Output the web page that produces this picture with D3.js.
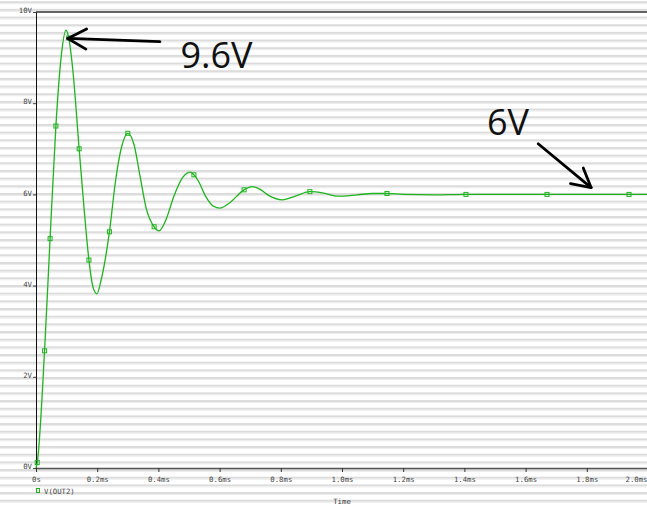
<!DOCTYPE html>
<html>
<head>
<meta charset="utf-8">
<script src="https://cdn.jsdelivr.net/npm/d3@7"></script>
<style>
  html, body { margin: 0; padding: 0; background: #fff; }
  svg { display: block; }
</style>
</head>
<body>
<svg id="chart" width="647" height="506"></svg>
<script>
// Transient response of V(OUT2): time in ms, voltage in V
const timeMs = [0, 0.004, 0.028, 0.046, 0.065, 0.082, 0.098, 0.107, 0.12, 0.141, 0.157, 0.173, 0.187, 0.199,
  0.212, 0.24, 0.26, 0.28, 0.30, 0.32, 0.34, 0.36, 0.386, 0.402, 0.425, 0.45, 0.48, 0.505, 0.516, 0.53, 0.555,
  0.58, 0.601, 0.63, 0.68, 0.705, 0.73, 0.76, 0.805, 0.85, 0.895, 0.94, 0.987, 1.05, 1.1, 1.147, 1.2, 1.3,
  1.405, 1.67, 1.938, 2.0];
const voltage = [0, 0.12, 2.57, 5.03, 7.5, 9.0, 9.6, 9.43, 8.75, 7.0, 5.7, 4.56, 3.95, 3.82,
  4.1, 5.18, 6.3, 7.05, 7.34, 7.1, 6.4, 5.7, 5.29, 5.2, 5.45, 5.95, 6.38, 6.49, 6.43, 6.3, 5.95,
  5.74, 5.70, 5.8, 6.10, 6.17, 6.12, 5.98, 5.88, 5.97, 6.06, 6.03, 5.96, 5.99, 6.02, 6.02, 6.0, 5.99,
  6.0, 6.0, 6.0, 6.0];
// indices of samples that carry a trace marker
const markerIdx = [1, 2, 3, 4, 7, 9, 11, 15, 18, 22, 28, 34, 40, 45, 48, 49, 50];

const xTicks = [0, 0.2, 0.4, 0.6, 0.8, 1.0, 1.2, 1.4, 1.6, 1.8, 2.0];
const xTickLabels = ["0s", "0.2ms", "0.4ms", "0.6ms", "0.8ms", "1.0ms", "1.2ms", "1.4ms", "1.6ms", "1.8ms", "2.0ms"];
const yTicks = [0, 2, 4, 6, 8, 10];
const yTickLabels = ["0V", "2V", "4V", "6V", "8V", "10V"];

const seriesName = "V(OUT2)";
const xTitle = "Time";

// callouts: text anchor and arrow tail/tip in data units
const calloutText = ["9.6V", "6V"];
const calloutTextPos = [[0.472, 8.78], [1.474, 7.31]];
const calloutTail = [[0.405, 9.35], [1.641, 7.11]];
const calloutTip = [[0.104, 9.42], [1.814, 6.15]];

const W = 647, H = 506;
const svg = d3.select("#chart");

// striped backdrop
const stripeY = d3.range(1.2, H, 7.67);
svg.append("g").selectAll("rect").data(stripeY).join("rect")
  .attr("x", 0).attr("y", d => d).attr("width", W).attr("height", 2)
  .attr("fill", "#dcdcdc");
svg.append("g").selectAll("rect").data(stripeY).join("rect")
  .attr("x", 0).attr("y", d => d + 2).attr("width", W).attr("height", 1)
  .attr("fill", "#ececec");

const x = d3.scaleLinear().domain([0, 2]).range([36, 648]);
const y = d3.scaleLinear().domain([0, 10]).range([468, 12]);

const monoFont = "'DejaVu Sans Mono', 'Liberation Mono', monospace";

// frame: top border, left axis
svg.append("line").attr("x1", x(0)).attr("x2", W).attr("y1", y(10)).attr("y2", y(10))
  .attr("stroke", "#333").attr("stroke-width", 1.5);

// x axis
const xAxis = d3.axisBottom(x).tickValues(xTicks)
  .tickFormat((d, i) => xTickLabels[i]).tickSize(4).tickSizeOuter(0);
const gx = svg.append("g").attr("transform", `translate(0,${y(0)})`).call(xAxis);
gx.select(".domain").attr("stroke", "#555").attr("stroke-width", 1.6);
gx.selectAll(".tick line").attr("stroke", "#333");
gx.selectAll(".tick text").attr("font-family", monoFont).attr("font-size", 7.3)
  .attr("fill", "#444").attr("dy", "0.95em")
  .attr("dx", (d, i) => i === xTicks.length - 1 ? -12 : 0);

// y axis
const yAxis = d3.axisLeft(y).tickValues(yTicks)
  .tickFormat((d, i) => yTickLabels[i]).tickSize(3).tickPadding(1).tickSizeOuter(0);
const gy = svg.append("g").attr("transform", `translate(${x(0)},0)`).call(yAxis);
gy.select(".domain").attr("stroke", "#111").attr("stroke-width", 1);
gy.selectAll(".tick line").attr("stroke", "#444");
gy.selectAll(".tick text").attr("font-family", monoFont).attr("font-size", 7.3)
  .attr("fill", "#444").attr("dy", "0.1em");

// trace
const traceColor = "#1db41d";
const pts = timeMs.map((t, i) => [t, voltage[i]]);
const line = d3.line().x(d => x(d[0])).y(d => y(d[1])).curve(d3.curveMonotoneX);
svg.append("path").datum(pts).attr("d", line)
  .attr("fill", "none").attr("stroke", traceColor).attr("stroke-width", 1.3);

svg.append("g").selectAll("rect").data(markerIdx).join("rect")
  .attr("x", i => x(timeMs[i]) - 2).attr("y", i => y(voltage[i]) - 2)
  .attr("width", 4).attr("height", 4)
  .attr("fill", "none").attr("stroke", traceColor).attr("stroke-width", 1);

// legend
svg.append("rect").attr("x", 36.5).attr("y", 488.5).attr("width", 3).attr("height", 4)
  .attr("fill", "none").attr("stroke", traceColor).attr("stroke-width", 1);
svg.append("text").attr("x", 44).attr("y", 494).text(seriesName)
  .attr("font-family", monoFont).attr("font-size", 7.3).attr("fill", "#444");

// axis title
svg.append("text").attr("x", x(1.0)).attr("y", 504).attr("text-anchor", "middle")
  .text(xTitle).attr("font-family", monoFont).attr("font-size", 7.3).attr("fill", "#444");

// callouts
const ann = svg.append("g");
calloutText.forEach((txt, i) => {
  ann.append("text").attr("x", x(calloutTextPos[i][0])).attr("y", y(calloutTextPos[i][1]))
    .text(txt).attr("font-family", "'Open Sans', sans-serif").attr("font-size", 36)
    .attr("fill", "#111");
  const [tx, ty] = [x(calloutTail[i][0]), y(calloutTail[i][1])];
  const [hx, hy] = [x(calloutTip[i][0]), y(calloutTip[i][1])];
  ann.append("line").attr("x1", tx).attr("y1", ty).attr("x2", hx).attr("y2", hy)
    .attr("stroke", "#000").attr("stroke-width", 2.8).attr("stroke-linecap", "round");
  const ang = Math.atan2(ty - hy, tx - hx);
  const len = 21, spread = Math.PI / 6.3;
  [ang - spread, ang + spread].forEach(a => {
    ann.append("line").attr("x1", hx).attr("y1", hy)
      .attr("x2", hx + len * Math.cos(a)).attr("y2", hy + len * Math.sin(a))
      .attr("stroke", "#000").attr("stroke-width", 2.8).attr("stroke-linecap", "round");
  });
});
</script>
</body>
</html>
